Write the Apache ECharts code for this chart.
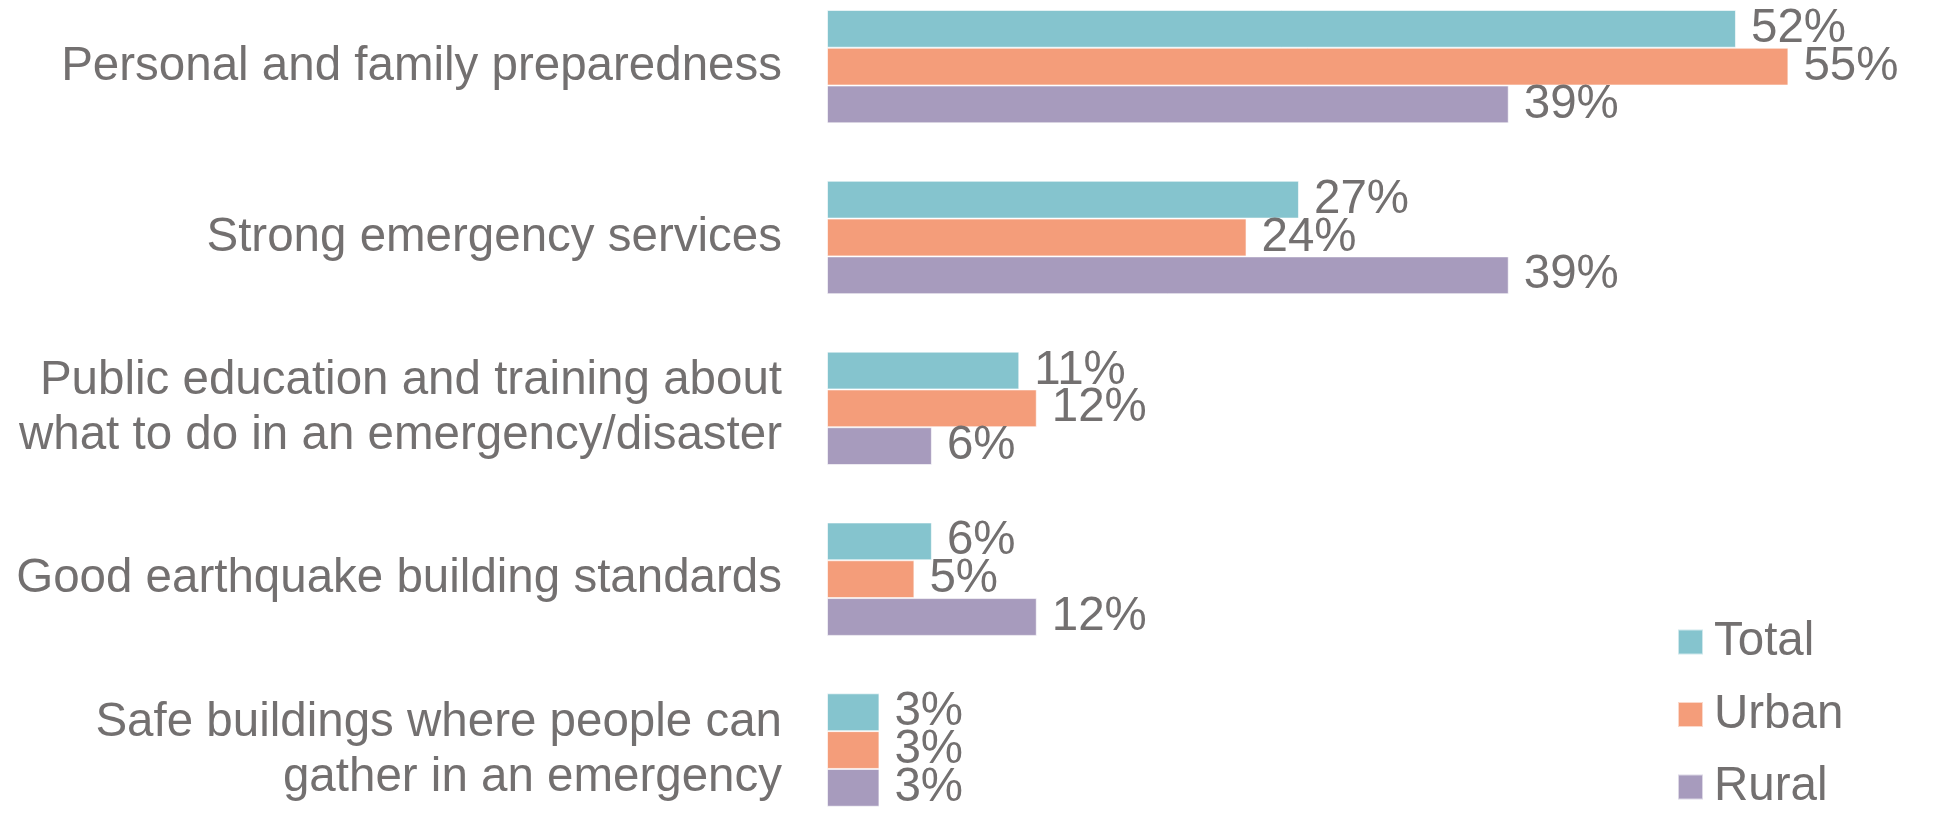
<!DOCTYPE html>
<html>
<head>
<meta charset="utf-8">
<script src="https://cdn.jsdelivr.net/npm/echarts@6/dist/echarts.min.js"></script>
<style>
html,body{margin:0;padding:0;background:#fff;overflow:hidden;width:1933px;height:814px;}
#c{position:absolute;left:0;top:-19px;width:1933px;height:860px;}
</style>
</head>
<body>
<div id="c"></div>
<script>
const categories = [
  "Personal and family preparedness",
  "Strong emergency services",
  "Public education and training about\nwhat to do in an emergency/disaster",
  "Good earthquake building standards",
  "Safe buildings where people can\ngather in an emergency"
];
const seriesNames = ["Total", "Urban", "Rural"];
const totalValues = [52, 27, 11, 6, 3];
const urbanValues = [55, 24, 12, 5, 3];
const ruralValues = [39, 39, 6, 12, 3];
const colors = ["#85C4CE", "#F49D7A", "#A79BBD"];
const textColor = "#737070";
const font = "'Liberation Sans', Arial, sans-serif";

const chart = echarts.init(document.getElementById('c'), null, {renderer: 'canvas'});
const vals = [totalValues, urbanValues, ruralValues];
chart.setOption({
  animation: false,
  backgroundColor: '#ffffff',
  grid: {left: 827, top: 0.2, height: 854.25, width: 1048.8},
  legend: {
    orient: 'vertical',
    left: 1672,
    top: 632,
    height: 230,
    itemWidth: 25,
    itemHeight: 25,
    itemGap: 24.5,
    icon: 'rect',
    data: seriesNames,
    textStyle: {fontFamily: font, fontSize: 47.5, color: textColor, lineHeight: 48, padding: [0,0,0,6]}
  },
  xAxis: {
    type: 'value', min: 0, max: 60,
    show: false
  },
  yAxis: {
    type: 'category',
    inverse: true,
    data: categories,
    axisLine: {show: false},
    axisTick: {show: false},
    axisLabel: {
      margin: 45,
      fontFamily: font,
      fontSize: 47.5,
      color: textColor,
      lineHeight: 55,
      align: 'right'
    }
  },
  series: seriesNames.map((n, i) => ({
    name: n,
    type: 'bar',
    data: vals[i],
    barWidth: 37.8,
    barGap: '0%',
    itemStyle: {color: colors[i], borderColor: 'rgba(255,255,255,0.6)', borderWidth: 1},
    label: {
      show: true,
      position: 'right',
      distance: 15,
      formatter: '{c}%',
      fontFamily: font,
      fontSize: 47.5,
      color: textColor
    }
  }))
});
</script>
</body>
</html>
